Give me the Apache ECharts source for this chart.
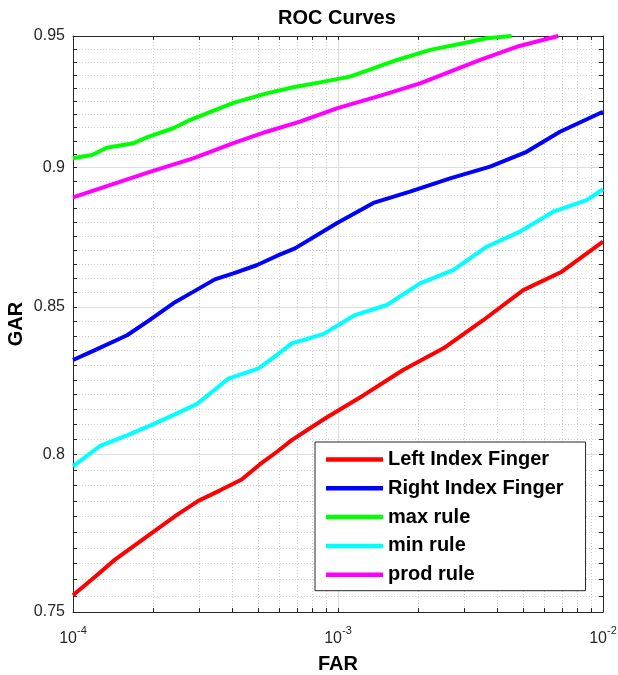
<!DOCTYPE html>
<html><head><meta charset="utf-8">
<script src="https://cdn.jsdelivr.net/npm/echarts@6/dist/echarts.min.js"></script>
<style>html,body{margin:0;padding:0;background:#fff}#c{width:618px;height:675px}</style>
</head><body><div id="c"></div>
<script>
const FONT = '"Liberation Sans", Arial, Helvetica, sans-serif';
const chartTitle = 'ROC Curves';
const xName = 'FAR';
const yName = 'GAR';
const seriesNames = ['Left Index Finger', 'Right Index Finger', 'max rule', 'min rule', 'prod rule'];
const seriesColors = ['#ff0000', '#0000ff', '#00ff00', '#00ffff', '#ff00ff'];

const leftFAR = [1.00e-4, 1.23e-4, 1.44e-4, 2.01e-4, 2.46e-4, 2.97e-4, 3.59e-4, 4.33e-4, 5.08e-4, 5.87e-4, 6.69e-4, 8.93e-4, 1.25e-3, 1.76e-3, 2.50e-3, 3.53e-3, 5.00e-3, 6.99e-3, 1.00e-2];
const leftGAR = [0.7552, 0.7614, 0.7663, 0.7751, 0.7804, 0.7850, 0.7884, 0.7919, 0.7969, 0.8009, 0.8048, 0.8120, 0.8198, 0.8283, 0.8357, 0.8454, 0.8559, 0.8624, 0.8731];

const rightFAR = [1.00e-4, 1.21e-4, 1.60e-4, 1.92e-4, 2.39e-4, 2.84e-4, 3.43e-4, 4.03e-4, 4.93e-4, 5.87e-4, 6.88e-4, 9.89e-4, 1.36e-3, 1.87e-3, 2.65e-3, 3.75e-3, 5.15e-3, 6.88e-3, 1.00e-2];
const rightGAR = [0.8317, 0.8351, 0.8402, 0.8451, 0.8513, 0.8553, 0.8597, 0.8618, 0.8647, 0.8680, 0.8707, 0.8797, 0.8871, 0.8912, 0.8961, 0.9004, 0.9059, 0.9134, 0.9209];

const maxFAR = [1.00e-4, 1.18e-4, 1.34e-4, 1.69e-4, 1.92e-4, 2.39e-4, 2.76e-4, 3.49e-4, 4.03e-4, 5.38e-4, 6.78e-4, 8.55e-4, 1.11e-3, 1.36e-3, 1.67e-3, 2.23e-3, 2.97e-3, 3.64e-3, 4.52e-3];
const maxGAR = [0.9035, 0.9047, 0.9074, 0.9091, 0.9115, 0.9147, 0.9178, 0.9218, 0.9243, 0.9279, 0.9302, 0.9321, 0.9343, 0.9375, 0.9407, 0.9446, 0.9472, 0.9491, 0.9500];

const minFAR = [1.00e-4, 1.26e-4, 1.60e-4, 2.01e-4, 2.39e-4, 2.93e-4, 3.38e-4, 3.86e-4, 4.39e-4, 5.00e-4, 5.87e-4, 6.69e-4, 8.80e-4, 1.16e-3, 1.53e-3, 2.04e-3, 2.72e-3, 3.64e-3, 4.86e-3, 6.49e-3, 8.68e-3, 1.00e-2];
const minGAR = [0.7962, 0.8028, 0.8064, 0.8101, 0.8131, 0.8168, 0.8212, 0.8254, 0.8271, 0.8288, 0.8334, 0.8374, 0.8406, 0.8472, 0.8507, 0.8583, 0.8630, 0.8713, 0.8767, 0.8839, 0.8881, 0.8921];

const prodFAR = [1.00e-4, 1.95e-4, 2.84e-4, 4.03e-4, 5.38e-4, 7.19e-4, 9.89e-4, 1.48e-3, 2.04e-3, 2.65e-3, 3.44e-3, 4.72e-3, 6.78e-3];
const prodGAR = [0.8891, 0.8985, 0.9035, 0.9091, 0.9134, 0.9172, 0.9222, 0.9273, 0.9317, 0.9362, 0.9407, 0.9458, 0.9500];

const xMajor = [1e-4, 1e-3, 1e-2];
const xMajorExp = ['-4', '-3', '-2'];
const xMinor = [2e-4, 3e-4, 4e-4, 5e-4, 6e-4, 7e-4, 8e-4, 9e-4, 2e-3, 3e-3, 4e-3, 5e-3, 6e-3, 7e-3, 8e-3, 9e-3];
const yMajor = [0.75, 0.8, 0.85, 0.9, 0.95];
const yMajorLabels = ['0.75', '0.8', '0.85', '0.9', '0.95'];
const yMinor = [0.755, 0.76, 0.765, 0.77, 0.775, 0.78, 0.785, 0.79, 0.795,
  0.805, 0.81, 0.815, 0.82, 0.825, 0.83, 0.835, 0.84, 0.845,
  0.855, 0.86, 0.865, 0.87, 0.875, 0.88, 0.885, 0.89, 0.895,
  0.905, 0.91, 0.915, 0.92, 0.925, 0.93, 0.935, 0.94, 0.945];

const seriesX = [leftFAR, rightFAR, maxFAR, minFAR, prodFAR];
const seriesY = [leftGAR, rightGAR, maxGAR, minGAR, prodGAR];

const AX = '#262626';
const majorGrid = { show: true, lineStyle: { color: '#dedede', width: 1, type: 'solid' } };
const minorGrid = { show: true, lineStyle: { color: '#d0d0d0', width: 1, type: [1, 2] } };
const tickStyle = { color: AX, width: 1 };

function findIdx(arr, v) {
  for (let i = 0; i < arr.length; i++) if (Math.abs(arr[i] - v) / arr[i] < 1e-6) return i;
  return -1;
}

const xBase = { type: 'log', logBase: 10, min: 1e-4, max: 1e-2, gridIndex: 0 };
const yBase = { type: 'log', logBase: 10, min: 0.75, max: 0.95, gridIndex: 0 };

const chart = echarts.init(document.getElementById('c'), null, { renderer: 'canvas' });
chart.setOption({
  animation: false,
  backgroundColor: '#ffffff',
  title: {
    text: chartTitle, left: 278, top: 8, padding: 0,
    textStyle: { fontFamily: FONT, fontSize: 20, fontWeight: 'bold', color: '#000' }
  },
  grid: { left: 73, right: 15, top: 36, bottom: 63, containLabel: false, outerBoundsMode: 'none' },
  legend: {
    data: seriesNames, orient: 'vertical', left: 315, top: 442,
    icon: 'rect', itemWidth: 57, itemHeight: 4.5, itemGap: 8.8,
    padding: [7.5, 22, 6, 11],
    backgroundColor: '#ffffff', borderColor: AX, borderWidth: 1,
    selectedMode: false,
    textStyle: { fontFamily: FONT, fontSize: 20, fontWeight: 'bold', color: '#000', lineHeight: 20 }
  },
  xAxis: [
    Object.assign({}, xBase, {
      position: 'bottom',
      axisLine: { show: true, lineStyle: tickStyle },
      axisTick: { show: true, inside: true, length: 4, lineStyle: tickStyle, customValues: xMajor },
      axisLabel: {
        show: true, margin: 13, customValues: xMajor,
        formatter: function (v) { const i = findIdx(xMajor, v); return '{b|10}{s|' + (i >= 0 ? xMajorExp[i] : '') + '}'; },
        rich: {
          b: { fontFamily: FONT, fontSize: 16, color: AX, lineHeight: 28 },
          s: { fontFamily: FONT, fontSize: 11, color: AX, lineHeight: 10, verticalAlign: 'top' }
        }
      },
      splitLine: majorGrid,
      name: xName, nameLocation: 'middle', nameGap: 42, nameMoveOverlap: false,
      nameTextStyle: { fontFamily: FONT, fontSize: 20, fontWeight: 'bold', color: '#000' }
    }),
    Object.assign({}, xBase, {
      position: 'bottom',
      axisLine: { show: false },
      axisTick: { show: true, inside: true, length: 4, lineStyle: tickStyle, customValues: xMinor },
      axisLabel: { show: false },
      splitLine: minorGrid
    }),
    Object.assign({}, xBase, {
      position: 'top',
      axisLine: { show: true, lineStyle: tickStyle },
      axisTick: { show: true, inside: true, length: 4, lineStyle: tickStyle, customValues: xMajor.concat(xMinor) },
      axisLabel: { show: false },
      splitLine: { show: false }
    })
  ],
  yAxis: [
    Object.assign({}, yBase, {
      position: 'left',
      axisLine: { show: true, lineStyle: tickStyle },
      axisTick: { show: true, inside: true, length: 4, lineStyle: tickStyle, customValues: yMajor },
      axisLabel: {
        show: true, margin: 8, customValues: yMajor,
        fontFamily: FONT, fontSize: 16, color: AX,
        formatter: function (v) { const i = findIdx(yMajor, v); return i >= 0 ? yMajorLabels[i] : ''; }
      },
      splitLine: majorGrid,
      name: yName, nameLocation: 'middle', nameGap: 47, nameRotate: 90, nameMoveOverlap: false,
      nameTextStyle: { fontFamily: FONT, fontSize: 20, fontWeight: 'bold', color: '#000' }
    }),
    Object.assign({}, yBase, {
      position: 'left',
      axisLine: { show: false },
      axisTick: { show: true, inside: true, length: 4, lineStyle: tickStyle, customValues: yMinor },
      axisLabel: { show: false },
      splitLine: minorGrid
    }),
    Object.assign({}, yBase, {
      position: 'right',
      axisLine: { show: true, lineStyle: tickStyle },
      axisTick: { show: true, inside: true, length: 4, lineStyle: tickStyle, customValues: yMajor.concat(yMinor) },
      axisLabel: { show: false },
      splitLine: { show: false }
    })
  ],
  series: seriesNames.map(function (name, k) {
    return {
      name: name, type: 'line', xAxisIndex: 0, yAxisIndex: 0,
      data: seriesX[k].map(function (x, i) { return [x, seriesY[k][i]]; }),
      showSymbol: false, symbol: 'none', clip: true,
      color: seriesColors[k],
      itemStyle: { color: seriesColors[k] },
      lineStyle: { color: seriesColors[k], width: 4 },
      emphasis: { disabled: true }
    };
  })
});
</script>
</body></html>
